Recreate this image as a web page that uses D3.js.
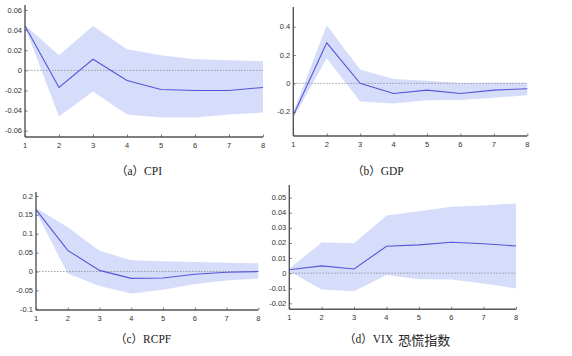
<!DOCTYPE html>
<html>
<head>
<meta charset="utf-8">
<script src="https://cdn.jsdelivr.net/npm/d3@7"></script>
<style>
  html, body { margin: 0; padding: 0; background: #fff; }
  svg { display: block; }
</style>
</head>
<body>
<svg id="chart" width="572" height="356"></svg>
<script>
// ---- data ----
const steps = [1, 2, 3, 4, 5, 6, 7, 8];

const cpiMid = [0.044, -0.017, 0.011, -0.010, -0.019, -0.020, -0.020, -0.017];
const cpiUp  = [0.045, 0.015, 0.044, 0.021, 0.015, 0.011, 0.010, 0.009];
const cpiLo  = [0.043, -0.046, -0.021, -0.044, -0.047, -0.047, -0.044, -0.042];
const cpiTicks = [-0.06, -0.04, -0.02, 0, 0.02, 0.04, 0.06];

const gdpMid = [-0.225, 0.286, 0.0, -0.071, -0.048, -0.071, -0.048, -0.038];
const gdpUp  = [-0.205, 0.410, 0.098, 0.030, 0.018, 0.002, 0.004, 0.004];
const gdpLo  = [-0.245, 0.178, -0.128, -0.142, -0.120, -0.118, -0.102, -0.083];
const gdpTicks = [-0.2, 0, 0.2, 0.4];

const rcpfMid = [0.164, 0.056, 0.003, -0.018, -0.017, -0.007, -0.002, 0.000];
const rcpfUp  = [0.168, 0.117, 0.055, 0.030, 0.027, 0.025, 0.023, 0.022];
const rcpfLo  = [0.158, -0.005, -0.038, -0.058, -0.048, -0.033, -0.024, -0.019];
const rcpfTicks = [-0.1, -0.05, 0, 0.05, 0.1, 0.15, 0.2];

const vixMid = [0.0022, 0.0048, 0.0027, 0.0178, 0.0187, 0.0205, 0.0195, 0.0180];
const vixUp  = [0.0030, 0.0203, 0.0198, 0.0382, 0.0410, 0.0440, 0.0448, 0.0462];
const vixLo  = [0.0012, -0.0108, -0.0120, -0.0012, -0.0040, -0.0042, -0.0068, -0.0102];
const vixTicks = [-0.02, -0.01, 0, 0.01, 0.02, 0.03, 0.04, 0.05];

const captionsLatin = ["（a）CPI", "（b）GDP", "（c）RCPF", "（d）VIX"];
const captionsCJK   = ["", "", "", "恐慌指数"];

// ---- layout (pixels) ----
const panels = [
  { mid: cpiMid, up: cpiUp, lo: cpiLo, ticks: cpiTicks,
    x0: 25, x1: 263, axisY: 137, top: 5,
    tLo: -0.06, pLo: 130.7, tHi: 0.06, pHi: 10,
    capX: 116, capY: 171 },
  { mid: gdpMid, up: gdpUp, lo: gdpLo, ticks: gdpTicks,
    x0: 293.3, x1: 527.3, axisY: 136, top: 7,
    tLo: -0.2, pLo: 111.7, tHi: 0.4, pHi: 26.7,
    capX: 352, capY: 171 },
  { mid: rcpfMid, up: rcpfUp, lo: rcpfLo, ticks: rcpfTicks,
    x0: 36, x1: 258.3, axisY: 310, top: 192,
    tLo: -0.1, pLo: 309.3, tHi: 0.2, pHi: 196,
    capX: 115, capY: 339 },
  { mid: vixMid, up: vixUp, lo: vixLo, ticks: vixTicks,
    x0: 289.3, x1: 516, axisY: 309.3, top: 185,
    tLo: -0.02, pLo: 303.3, tHi: 0.05, pHi: 197.7,
    capX: 344, capY: 339 }
];

const svg = d3.select("#chart");
const fmt = v => String(+v.toFixed(3));

panels.forEach((p, i) => {
  const x = d3.scaleLinear().domain([1, 8]).range([p.x0, p.x1]);
  const y = d3.scaleLinear().domain([p.tLo, p.tHi]).range([p.pLo, p.pHi]);
  const g = svg.append("g");

  const rows = steps.map((s, k) => ({ s, m: p.mid[k], u: p.up[k], l: p.lo[k] }));

  // band
  g.append("path")
    .datum(rows)
    .attr("fill", "#d5ddfb")
    .attr("stroke", "none")
    .attr("d", d3.area().x(d => x(d.s)).y0(d => y(d.l)).y1(d => y(d.u)));

  // zero line
  g.append("line")
    .attr("x1", x(1)).attr("x2", x(8))
    .attr("y1", y(0)).attr("y2", y(0))
    .attr("stroke", "#8a8a8a")
    .attr("stroke-width", 0.8)
    .attr("stroke-dasharray", "1.5,1.5");

  // response line
  g.append("path")
    .datum(rows)
    .attr("fill", "none")
    .attr("stroke", "#5656d8")
    .attr("stroke-width", 1.1)
    .attr("d", d3.line().x(d => x(d.s)).y(d => y(d.m)));

  // y axis (ticks inward)
  const yAxis = d3.axisRight(y).tickValues(p.ticks).tickSize(2.5).tickFormat("");
  const ya = g.append("g").attr("transform", `translate(${p.x0},0)`).call(yAxis);
  ya.select(".domain").remove();
  ya.selectAll(".tick line").attr("stroke", "#555").attr("stroke-width", 0.8);
  g.append("line")
    .attr("x1", p.x0).attr("x2", p.x0)
    .attr("y1", p.top).attr("y2", p.axisY)
    .attr("stroke", "#555").attr("stroke-width", 1.4);
  g.selectAll(".ylab").data(p.ticks).enter().append("text")
    .attr("x", p.x0 - 3).attr("y", d => y(d))
    .attr("text-anchor", "end").attr("dominant-baseline", "central")
    .attr("font-family", "Liberation Sans, Arial, sans-serif")
    .attr("font-size", 7.5).attr("fill", "#333")
    .text(fmt);

  // x axis (ticks upward)
  const xAxis = d3.axisTop(x).tickValues(steps).tickSize(2.5).tickFormat("");
  const xa = g.append("g").attr("transform", `translate(0,${p.axisY})`).call(xAxis);
  xa.select(".domain").remove();
  xa.selectAll(".tick line").attr("stroke", "#555").attr("stroke-width", 0.8);
  g.append("line")
    .attr("x1", p.x0).attr("x2", p.x1)
    .attr("y1", p.axisY).attr("y2", p.axisY)
    .attr("stroke", "#555").attr("stroke-width", 1.4);
  g.selectAll(".xlab").data(steps).enter().append("text")
    .attr("x", d => x(d)).attr("y", p.axisY + 8)
    .attr("text-anchor", "middle").attr("dominant-baseline", "central")
    .attr("font-family", "Liberation Sans, Arial, sans-serif")
    .attr("font-size", 7.5).attr("fill", "#333")
    .text(d => d);

  // caption
  const cap = g.append("text")
    .attr("x", p.capX).attr("y", p.capY)
    .attr("dominant-baseline", "central")
    .attr("font-family", "'Liberation Serif', 'Noto Sans CJK SC', serif")
    .attr("font-size", 11.5).attr("fill", "#222");
  cap.append("tspan").text(captionsLatin[i]);
  if (captionsCJK[i]) {
    cap.append("tspan").attr("dx", 5)
      .attr("font-family", "'Noto Sans CJK SC', sans-serif")
      .attr("font-size", 13)
      .text(captionsCJK[i]);
  }
});
</script>
</body>
</html>
